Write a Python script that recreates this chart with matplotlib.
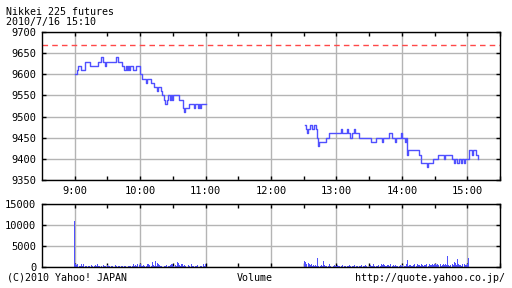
import numpy as np
import matplotlib
matplotlib.use('Agg')
import matplotlib.pyplot as plt

# 価格（ステップ）: 時刻, 値
am_times = ['9:00', '9:02', '9:03', '9:06', '9:09', '9:14', '9:21', '9:24', '9:26', '9:28',
            '9:29', '9:38', '9:40', '9:43', '9:45', '9:47', '9:48', '9:49', '9:50', '9:51',
            '9:53', '9:56', '10:00', '10:02', '10:05', '10:06', '10:10', '10:13', '10:15', '10:16',
            '10:19', '10:20', '10:22', '10:23', '10:25', '10:26', '10:27', '10:28', '10:29', '10:30',
            '10:35', '10:36', '10:39', '10:40', '10:41', '10:45', '10:49', '10:50', '10:53', '10:54',
            '10:55', '10:56', '11:00']
am_prices = [9600, 9610, 9620, 9610, 9630, 9620, 9630, 9640, 9630, 9620,
             9630, 9640, 9630, 9620, 9610, 9620, 9610, 9620, 9610, 9620,
             9610, 9620, 9600, 9590, 9580, 9590, 9580, 9570, 9560, 9570,
             9560, 9550, 9540, 9530, 9540, 9550, 9540, 9550, 9540, 9550,
             9550, 9540, 9520, 9510, 9520, 9530, 9520, 9530, 9520, 9530,
             9520, 9530, 9530]

pm_times = ['12:31', '12:32', '12:33', '12:34', '12:36', '12:38', '12:39', '12:41', '12:42', '12:43',
            '12:44', '12:50', '12:53', '13:04', '13:05', '13:10', '13:11', '13:12', '13:14', '13:16',
            '13:17', '13:21', '13:32', '13:36', '13:42', '13:43', '13:48', '13:51', '13:54', '13:55',
            '13:59', '14:00', '14:03', '14:04', '14:05', '14:06', '14:16', '14:18', '14:23', '14:24',
            '14:29', '14:33', '14:39', '14:40', '14:46', '14:48', '14:49', '14:51', '14:52', '14:54',
            '14:55', '14:57', '14:58', '15:02', '15:04', '15:05', '15:08', '15:10']
pm_prices = [9480, 9470, 9460, 9470, 9480, 9470, 9480, 9470, 9450, 9430,
             9440, 9450, 9460, 9470, 9460, 9470, 9460, 9450, 9460, 9470,
             9460, 9450, 9440, 9450, 9440, 9450, 9460, 9450, 9440, 9450,
             9460, 9450, 9440, 9450, 9410, 9420, 9410, 9390, 9380, 9390,
             9400, 9410, 9400, 9410, 9400, 9390, 9400, 9390, 9400, 9390,
             9400, 9390, 9400, 9420, 9410, 9420, 9410, 9400]

prev_close = 9670

# 出来高（1分毎）
am_vol = [11000, 700, 500, 600, 300, 200, 800, 300, 700, 100,
          200, 300, 100, 200, 300, 500, 200, 100, 300, 400,
          200, 600, 300, 200, 100, 300, 500, 200, 300, 100,
          400, 200, 300, 100, 200, 300, 100, 400, 200, 100,
          300, 200, 100, 300, 200, 100, 200, 300, 100, 200,
          300, 200, 100, 300, 600, 200, 400, 300, 700, 500,
          600, 300, 200, 400, 300, 100, 200, 600, 800, 500,
          300, 1100, 400, 300, 1400, 200, 1000, 600, 400, 200,
          300, 100, 200, 300, 400, 100, 200, 300, 500, 800,
          600, 300, 400, 200, 1300, 1000, 500, 300, 700, 600,
          200, 400, 300, 100, 500, 200, 100, 600, 300, 200,
          100, 300, 200, 400, 100, 200, 300, 100, 600, 200,
          700]
pm_start = '12:31'
pm_vol = [1500, 1200, 800, 900, 600, 400, 700, 300, 500, 200,
          400, 300, 2100, 300, 200, 500, 300, 1400, 400, 200,
          300, 100, 200, 600, 300, 100, 200, 400, 300, 200,
          500, 300, 200, 100, 300, 400, 200, 300, 100, 200,
          300, 400, 200, 100, 300, 200, 500, 200, 300, 100,
          200, 300, 400, 100, 200, 300, 500, 200, 100, 300,
          400, 200, 300, 600, 200, 100, 300, 200, 400, 300,
          700, 500, 600, 400, 300, 200, 500, 400, 300, 600,
          200, 500, 300, 400, 200, 300, 100, 200, 500, 300,
          400, 300, 200, 600, 1700, 300, 400, 500, 300, 200,
          400, 600, 300, 700, 400, 500, 300, 800, 400, 300,
          500, 400, 600, 300, 700, 500, 400, 600, 500, 700,
          600, 400, 800, 500, 600, 300, 500, 700, 400, 600,
          500, 2600, 400, 300, 500, 600, 400, 1300, 900, 500,
          2000, 600, 400, 500, 300, 600, 700, 400, 500, 600,
          2200]

x_ticks = ['9:00', '10:00', '11:00', '12:00', '13:00', '14:00', '15:00']


def to_min(s):
    h, m = s.split(':')
    return (int(h) - 9) * 60 + int(m)


plt.rcParams['font.family'] = ['DejaVu Sans Mono']
plt.rcParams['font.size'] = 7.5

blue = '#5050ff'
grid_c = '#b4b4b4'

fig = plt.figure(figsize=(5.12, 2.88), dpi=100)
ax1 = fig.add_axes([42 / 512, 1 - 180 / 288, 458 / 512, 148 / 288])
ax2 = fig.add_axes([42 / 512, 1 - 267 / 288, 458 / 512, 63 / 288])

# 価格
for times, prices in [(am_times, am_prices), (pm_times, pm_prices)]:
    ax1.step([to_min(t) for t in times], prices, where='post', color=blue, lw=1)
ax1.axhline(prev_close, color='#ff4848', lw=1, ls=(0, (4, 3)))
ax1.set_ylim(9350, 9700)
ax1.set_yticks(np.arange(9350, 9701, 50))

# 出来高
am_x = np.arange(len(am_vol))
pm_x = np.arange(len(pm_vol)) + to_min(pm_start)
ax2.bar(am_x, am_vol, width=0.9, color=blue, linewidth=0)
ax2.bar(pm_x, pm_vol, width=0.9, color=blue, linewidth=0)
ax2.set_ylim(0, 15000)
ax2.set_yticks([0, 5000, 10000, 15000])

hours = [to_min(t) for t in x_ticks]
for ax in (ax1, ax2):
    ax.set_xlim(-30, 390)
    ax.set_xticks(hours)
    ax.set_xticks([h + 30 for h in hours], minor=True)
    ax.grid(True, which='major', color=grid_c, lw=1)
    ax.set_axisbelow(True)
    ax.tick_params(which='both', direction='in', top=True, right=True, length=3, width=1, pad=4)
    for sp in ax.spines.values():
        sp.set_linewidth(1)

ax1.set_xticklabels(x_ticks)
ax2.set_xticklabels([])

fig.text(6 / 512, 1 - 12 / 288, 'Nikkei 225 futures', ha='left', va='center', fontsize=7.2)
fig.text(6 / 512, 1 - 22 / 288, '2010/7/16 15:10', ha='left', va='center', fontsize=7.2)
fig.text(7 / 512, 1 - 278 / 288, '(C)2010 Yahoo! JAPAN', ha='left', va='center', fontsize=7.2)
fig.text(255 / 512, 1 - 278 / 288, 'Volume', ha='center', va='center', fontsize=7.2)
fig.text(505 / 512, 1 - 278 / 288, 'http://quote.yahoo.co.jp/', ha='right', va='center', fontsize=7.2)

fig.savefig('out.png', dpi=100)
